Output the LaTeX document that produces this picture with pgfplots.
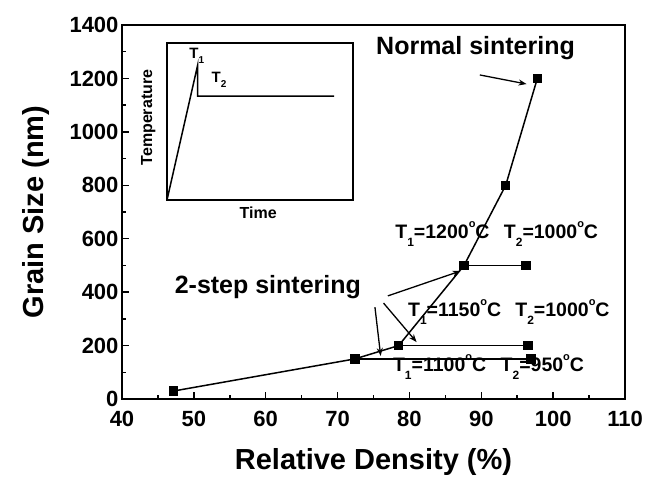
\documentclass[border=0pt]{standalone}
\usepackage{pgfplots}
\pgfplotsset{compat=1.18}
\usepackage{fontspec}
\setmainfont{Liberation Sans}
\usetikzlibrary{calc,arrows.meta}
\newcommand\sub[1]{\raisebox{-0.42em}{\fontsize{12}{12}\selectfont #1}}
\newcommand\degc{\raisebox{0.55em}{\fontsize{11}{11}\selectfont o}}

\begin{document}
\begin{tikzpicture}
\begin{axis}[
    name=main,
    scale only axis,
    width=503pt, height=374pt,
    xmin=40, xmax=110,
    ymin=0, ymax=1400,
    xtick={40,50,...,110},
    ytick={0,200,...,1400},
    minor x tick num=1,
    minor y tick num=1,
    tick align=inside,
    xtick pos=bottom, ytick pos=left,
    major tick length=7pt, minor tick length=4pt,
    axis line style={line width=2pt},
    every tick/.style={black, line width=1.5pt},
    tick label style={font=\fontsize{22}{22}\selectfont\bfseries},
    xticklabel style={yshift=-9pt},
    /pgf/number format/assume math mode=true,
    /pgf/number format/1000 sep={},
    label style={font=\fontsize{29}{29}\selectfont\bfseries},
    xlabel={Relative Density (\%)},
    ylabel={Grain Size (nm)},
    xlabel style={at={(axis description cs:0.5,-0.168)}, anchor=center},
    ylabel style={at={(axis description cs:-0.170,0.5)}, anchor=center},
    clip=false,
]
% normal sintering
\addplot[black, line width=1.5pt, mark=square*, mark size=4pt] coordinates {
    (47.2, 30) (72.4, 150) (78.5, 200) (87.6, 500) (93.4, 800) (97.8, 1200)
};
% two-step sintering
\addplot[black, line width=1.5pt, mark=square*, mark size=4pt] coordinates {
    (87.6, 500) (96.2, 500)
};
\addplot[black, line width=1.5pt, mark=square*, mark size=4pt] coordinates {
    (78.5, 200) (96.5, 200)
};
\addplot[black, line width=1.5pt, mark=square*, mark size=4pt] coordinates {
    (72.4, 150) (96.9, 150)
};

\tikzset{ann/.style={-{Stealth[length=8pt,width=6pt]}, line width=1.3pt}}
\draw[ann] (axis cs:89.8,1213) -- (axis cs:96.3,1179);
\draw[ann] (axis cs:77.0,386) -- (axis cs:87.1,479);
\draw[ann] (axis cs:76.4,359) -- (axis cs:81.0,213);
\draw[ann] (axis cs:75.2,344) -- (axis cs:76.0,161);

\node[font=\fontsize{25}{25}\selectfont\bfseries] at (axis cs:89.2,1314) {Normal sintering};
\node[font=\fontsize{25}{25}\selectfont\bfseries] at (axis cs:60.3,419) {2-step sintering};

\tikzset{tl/.style={font=\fontsize{19.5}{19.5}\selectfont\bfseries, inner sep=0pt}}
\node[tl] at (axis cs:84.6,618) {T\sub{1}=1200\degc C};
\node[tl] at (axis cs:99.7,618) {T\sub{2}=1000\degc C};
\node[tl] at (axis cs:86.3,326) {T\sub{1}=1150\degc C};
\node[tl] at (axis cs:101.3,326) {T\sub{2}=1000\degc C};
\node[tl] at (axis cs:84.2,118) {T\sub{1}=1100\degc C};
\node[tl] at (axis cs:98.5,118) {T\sub{2}=950\degc C};
\end{axis}

% inset: temperature profile
\begin{axis}[
    at={($(main.south west)+(45pt,199pt)$)}, anchor=south west,
    scale only axis,
    width=186pt, height=157pt,
    xmin=0, xmax=1, ymin=0, ymax=1,
    ticks=none,
    axis line style={line width=1.5pt},
    label style={font=\fontsize{16}{16}\selectfont\bfseries},
    xlabel={Time}, ylabel={Temperature},
    xlabel style={at={(axis description cs:0.49,-0.083)}, anchor=center},
    ylabel style={at={(axis description cs:-0.10,0.525)}, anchor=center},
    clip=false,
]
\addplot[black, line width=1.5pt] coordinates {
    (0,0) (0.165,0.86) (0.165,0.662) (0.898,0.662)
};
\node[font=\fontsize{15}{15}\selectfont\bfseries] at (axis cs:0.16,0.92) {T\raisebox{-0.35em}{\fontsize{10}{10}\selectfont 1}};
\node[font=\fontsize{15}{15}\selectfont\bfseries] at (axis cs:0.28,0.764) {T\raisebox{-0.35em}{\fontsize{10}{10}\selectfont 2}};
\end{axis}

\path ([shift={(-122pt,-78pt)}]main.south west) rectangle ([shift={(32pt,25pt)}]main.north east);
\end{tikzpicture}
\end{document}
